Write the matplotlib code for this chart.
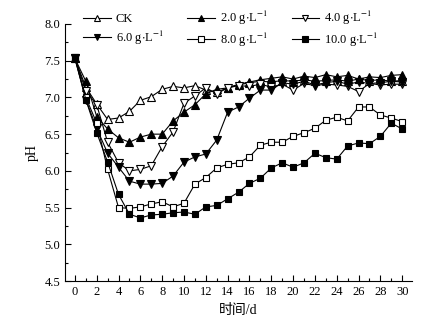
import matplotlib.pyplot as plt
from matplotlib.ticker import MultipleLocator

plt.rcParams['font.family'] = ['Liberation Serif', 'Noto Sans CJK SC']
plt.rcParams['mathtext.fontset'] = 'stix'

days = list(range(31))

ph_ck = [7.53, 7.14, 6.91, 6.70, 6.72, 6.81, 6.96, 7.01, 7.11, 7.15, 7.13, 7.16,
         7.10, 7.07, 7.13, 7.17, 7.20, 7.22, 7.21, 7.23, 7.22, 7.24, 7.22, 7.23,
         7.24, 7.22, 7.25, 7.23, 7.24, 7.22, 7.23]
ph_2 = [7.53, 7.22, 6.74, 6.57, 6.45, 6.39, 6.46, 6.50, 6.50, 6.68, 6.80, 6.90,
        7.05, 7.11, 7.13, 7.18, 7.21, 7.24, 7.26, 7.28, 7.25, 7.29, 7.27, 7.31,
        7.28, 7.30, 7.25, 7.28, 7.27, 7.30, 7.31]
ph_4 = [7.53, 7.09, 6.90, 6.39, 6.11, 6.00, 6.02, 6.07, 6.33, 6.53, 6.92, 7.02,
        7.13, 7.05, 7.13, 7.16, 7.15, 7.18, 7.14, 7.18, 7.10, 7.19, 7.16, 7.18,
        7.17, 7.15, 7.08, 7.19, 7.17, 7.18, 7.18]
ph_6 = [7.53, 6.97, 6.58, 6.24, 6.05, 5.86, 5.82, 5.82, 5.83, 5.93, 6.12, 6.19,
        6.23, 6.42, 6.80, 6.87, 6.99, 7.10, 7.10, 7.20, 7.18, 7.22, 7.17, 7.20,
        7.22, 7.18, 7.21, 7.19, 7.20, 7.22, 7.21]
ph_8 = [7.53, 7.00, 6.65, 6.02, 5.50, 5.49, 5.51, 5.55, 5.58, 5.51, 5.56, 5.82,
        5.91, 6.04, 6.09, 6.11, 6.19, 6.35, 6.39, 6.39, 6.47, 6.52, 6.58, 6.69,
        6.73, 6.68, 6.87, 6.87, 6.76, 6.72, 6.67]
ph_10 = [7.55, 6.97, 6.52, 6.12, 5.68, 5.41, 5.36, 5.40, 5.41, 5.43, 5.44, 5.41,
         5.51, 5.53, 5.62, 5.71, 5.83, 5.90, 6.04, 6.11, 6.05, 6.11, 6.24, 6.18,
         6.16, 6.34, 6.38, 6.37, 6.47, 6.65, 6.57]

labels = ['CK', r'2.0 g$\cdot$L$^{-1}$', r'4.0 g$\cdot$L$^{-1}$',
          r'6.0 g$\cdot$L$^{-1}$', r'8.0 g$\cdot$L$^{-1}$', r'10.0 g$\cdot$L$^{-1}$']
series = [ph_ck, ph_2, ph_4, ph_6, ph_8, ph_10]
markers = ['^', '^', 'v', 'v', 's', 's']
faces = ['white', 'black', 'white', 'black', 'white', 'black']

fig = plt.figure(figsize=(4.31, 3.28), dpi=100)
ax = fig.add_axes([0.151, 0.143, 0.805, 0.784])

handles = []
for y, lab, m, fc in zip(series, labels, markers, faces):
    h, = ax.plot(days, y, color='black', lw=0.8, marker=m, ms=6 if m != 's' else 5,
                 mfc=fc, mec='black', mew=0.8, label=lab)
    handles.append(h)

# legend sits partly above the axes, as in the original
order = [0, 3, 1, 4, 2, 5]
ax.legend([handles[i] for i in order], [labels[i] for i in order], ncol=3,
          frameon=False, loc='upper left', bbox_to_anchor=(0.193, 0.972),
          bbox_transform=fig.transFigure, borderpad=0, borderaxespad=0,
          fontsize=9, handlelength=2.2, handletextpad=0.4, columnspacing=1.9,
          labelspacing=0.25, markerscale=0.8)

ax.set_xlim(-0.9, 30.9)
ax.set_ylim(4.5, 8.0)
ax.xaxis.set_major_locator(MultipleLocator(2))
ax.xaxis.set_minor_locator(MultipleLocator(1))
ax.yaxis.set_major_locator(MultipleLocator(0.5))
ax.yaxis.set_minor_locator(MultipleLocator(0.25))
ax.yaxis.set_major_formatter(plt.FormatStrFormatter('%.1f'))
ax.tick_params(which='both', direction='in', labelsize=9, width=0.8)
ax.tick_params(which='major', length=4)
ax.tick_params(which='minor', length=2)
ax.spines['top'].set_visible(False)
ax.spines['right'].set_visible(False)
ax.spines['left'].set_linewidth(0.8)
ax.spines['bottom'].set_linewidth(0.8)

ax.set_xlabel('时间/d', fontsize=10)
ax.set_ylabel('pH', fontsize=10)

fig.savefig('out.png', dpi=100)
